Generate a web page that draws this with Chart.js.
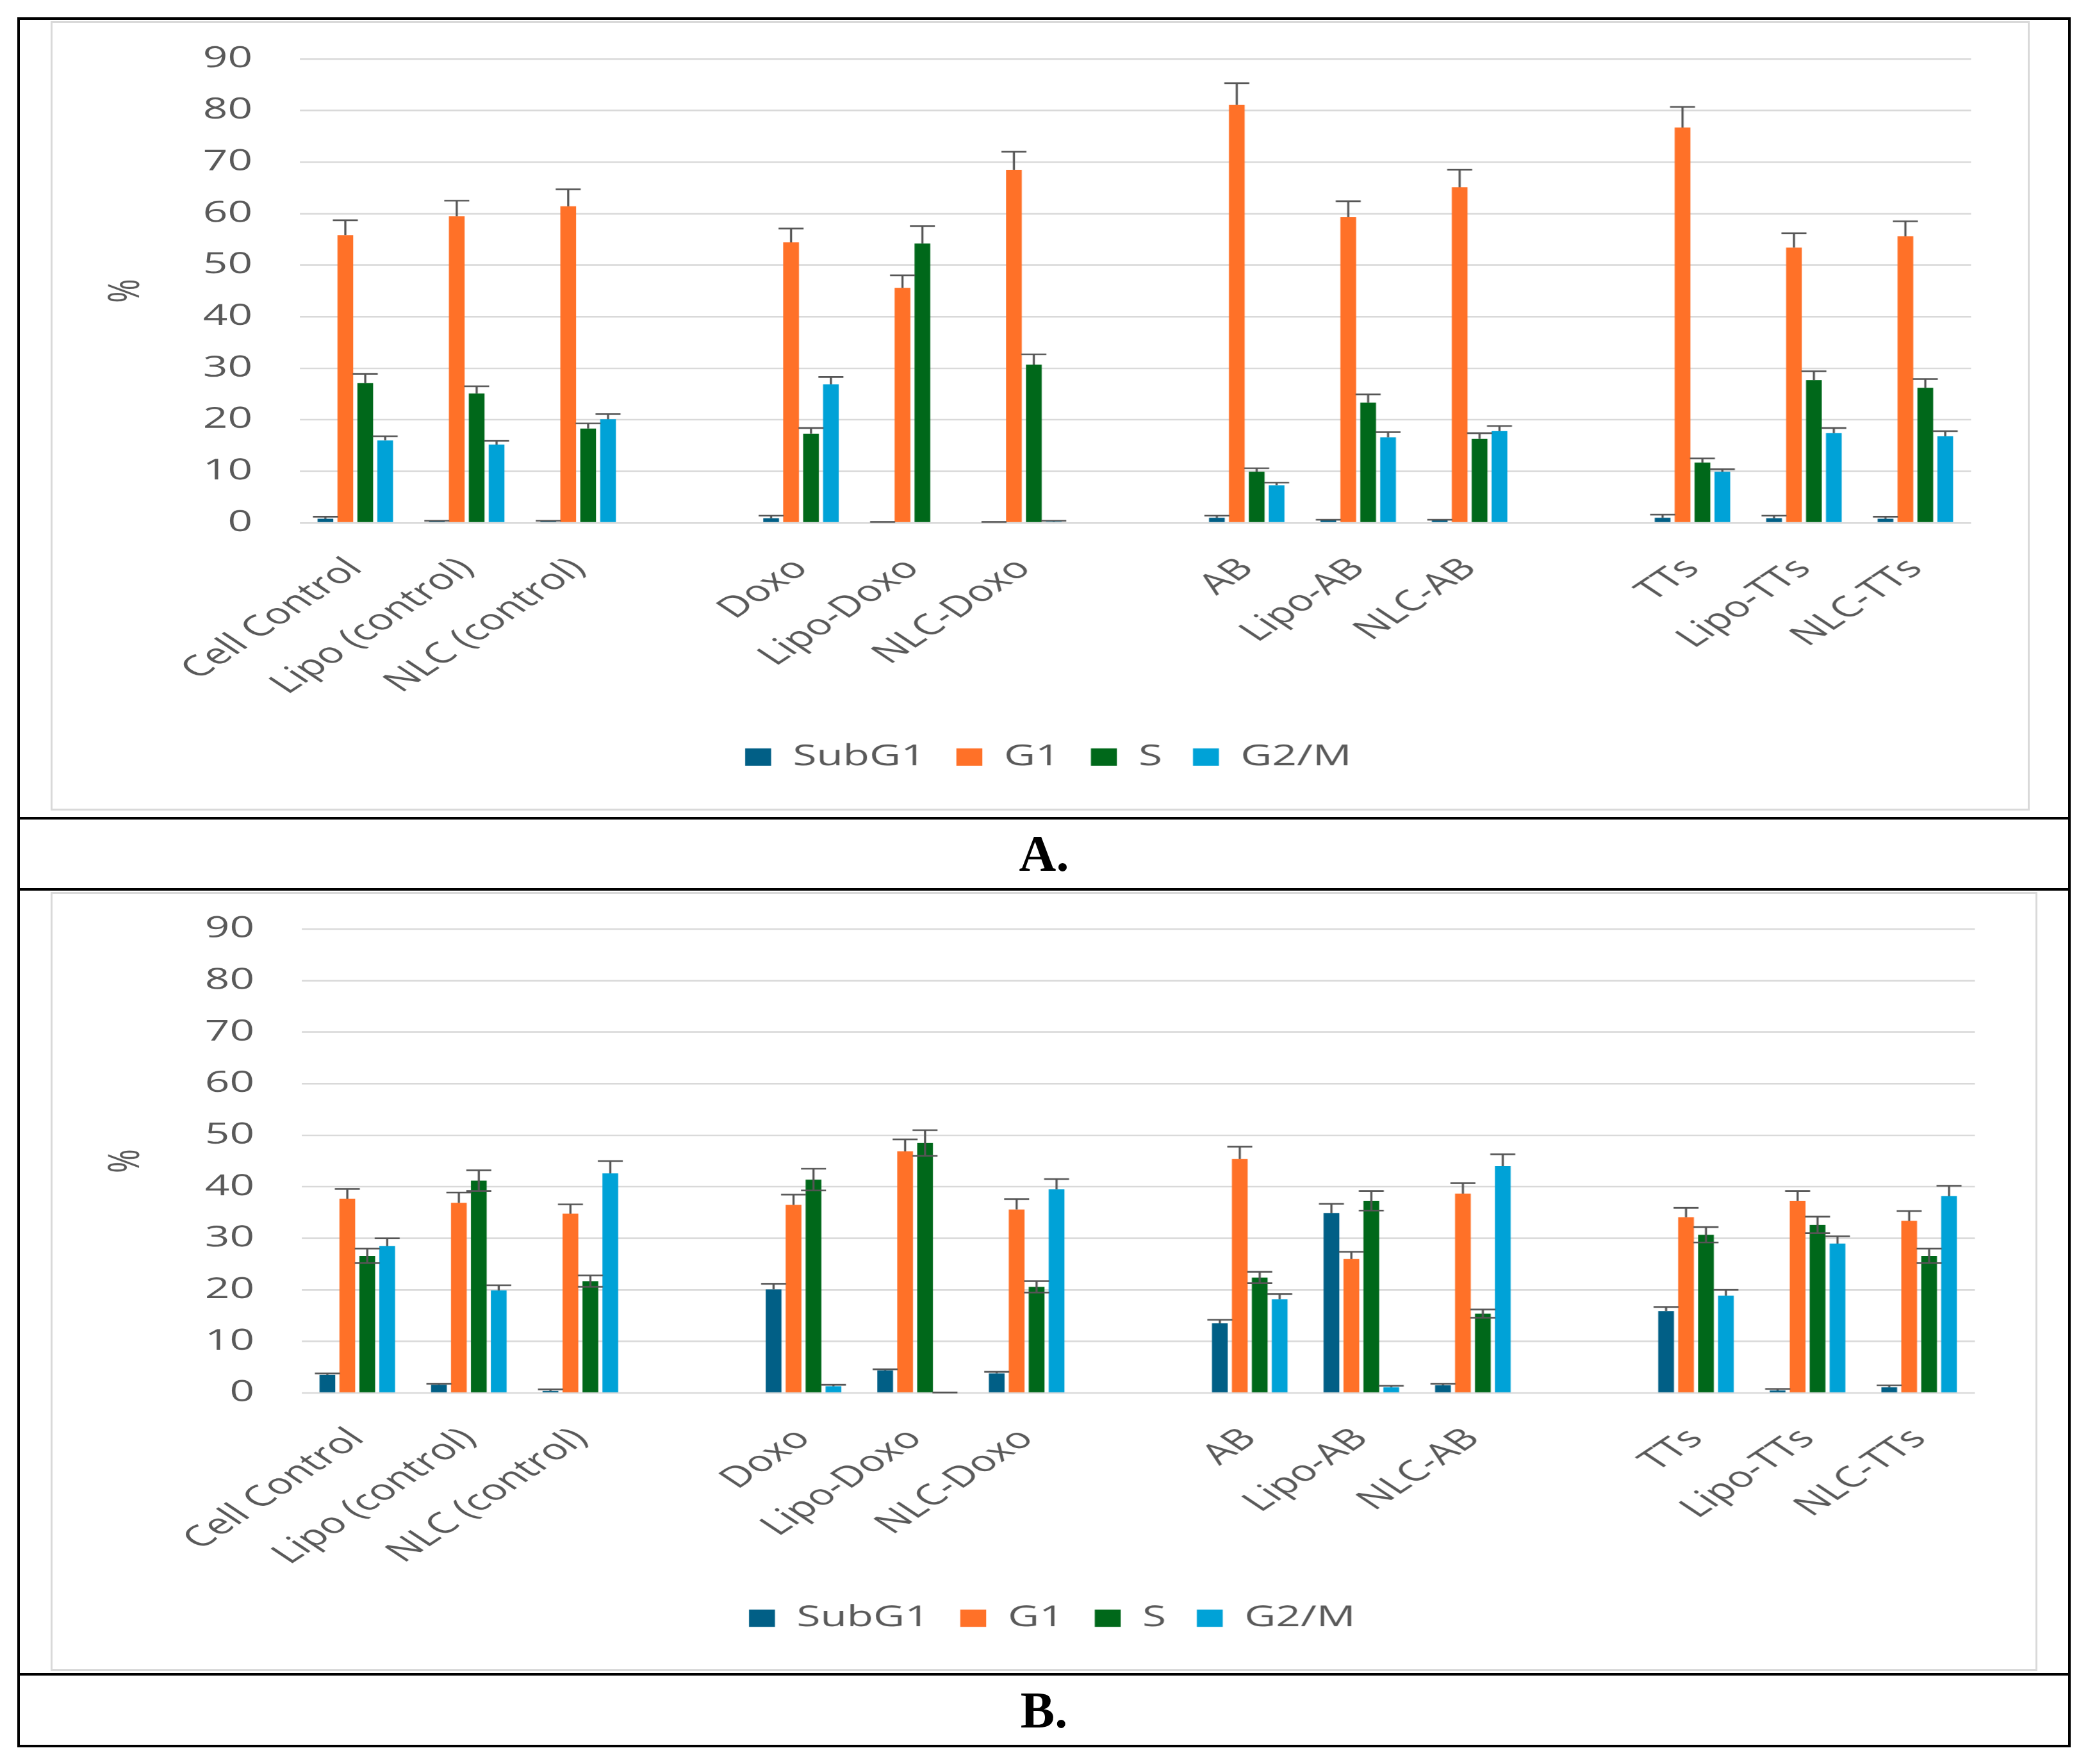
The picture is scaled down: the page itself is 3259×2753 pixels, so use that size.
<!DOCTYPE html>
<html><head><meta charset="utf-8">
<script src="https://cdn.jsdelivr.net/npm/chart.js@4.4.1/dist/chart.umd.min.js"></script>
<style>
html,body{margin:0;padding:0;background:#fff;}
#page{position:relative;width:3259px;height:2753px;background:#fff;overflow:hidden;}
.hl{position:absolute;background:#000;}
.box{position:absolute;border:3px solid #D9D9D9;box-sizing:border-box;}
.stretch{position:absolute;transform:scaleX(1.5);transform-origin:0 0;line-height:0;}
.stretch canvas{display:block;}
.lbl{position:absolute;font-family:"Liberation Serif","Times New Roman",serif;font-weight:bold;font-size:80px;color:#000;text-align:center;width:3201px;left:29px;line-height:1;}
</style></head>
<body>
<div id="page">
  <div class="box" style="left:79px;top:33px;width:3089px;height:1232px;"></div>
  <div class="stretch" style="left:79px;top:33px;"><canvas id="cA" width="2059" height="1232"></canvas></div>
  <div class="box" style="left:79px;top:1392px;width:3101px;height:1216px;"></div>
  <div class="stretch" style="left:79px;top:1392px;"><canvas id="cB" width="2067" height="1216"></canvas></div>

  <div class="hl" style="left:29px;top:27px;width:3201px;height:4px;"></div>
  <div class="hl" style="left:29px;top:2723px;width:3201px;height:4px;"></div>
  <div class="hl" style="left:27px;top:27px;width:4px;height:2700px;"></div>
  <div class="hl" style="left:3228px;top:27px;width:4px;height:2700px;"></div>
  <div class="hl" style="left:29px;top:1275px;width:3201px;height:4px;"></div>
  <div class="hl" style="left:29px;top:1386px;width:3201px;height:4px;"></div>
  <div class="hl" style="left:29px;top:2611px;width:3201px;height:4px;"></div>

  <div class="lbl" style="top:1292px;">A.</div>
  <div class="lbl" style="top:2629px;">B.</div>
</div>
<script>
// ---------- data ----------
const categories = ['Cell Control','Lipo (control)','NLC (control)','',
  'Doxo','Lipo-Doxo','NLC-Doxo','',
  'AB','Lipo-AB','NLC-AB','',
  'TTs','Lipo-TTs','NLC-TTs'];
const seriesNames = ['SubG1','G1','S','G2/M'];
const yTicks = [0,10,20,30,40,50,60,70,80,90];

// Panel A values and (upper) error
const subG1_A = [0.8, 0.3, 0.3, null, 0.9, 0.1, 0.1, null, 1.0, 0.5, 0.5, null, 1.0, 0.9, 0.8];
const subG1Err_A = [0.4, 0.1, 0.1, null, 0.5, 0.1, 0.1, null, 0.4, 0.1, 0.1, null, 0.6, 0.5, 0.4];
const g1_A = [55.8, 59.5, 61.4, null, 54.4, 45.6, 68.5, null, 81.1, 59.3, 65.1, null, 76.7, 53.4, 55.6];
const g1Err_A = [2.9, 3.0, 3.3, null, 2.7, 2.4, 3.5, null, 4.2, 3.1, 3.4, null, 4.0, 2.8, 2.9];
const s_A = [27.1, 25.1, 18.3, null, 17.3, 54.2, 30.7, null, 9.9, 23.3, 16.3, null, 11.7, 27.7, 26.2];
const sErr_A = [1.8, 1.4, 1.0, null, 1.1, 3.4, 2.0, null, 0.7, 1.6, 1.1, null, 0.8, 1.7, 1.7];
const g2m_A = [16.0, 15.2, 20.1, null, 26.9, null, 0.2, null, 7.3, 16.6, 17.8, null, 9.9, 17.4, 16.8];
const g2mErr_A = [0.8, 0.7, 1.0, null, 1.4, null, 0.2, null, 0.5, 1.0, 1.0, null, 0.5, 1.0, 1.0];

// Panel B values and error
const subG1_B = [3.5, 1.6, 0.4, null, 20.1, 4.4, 3.8, null, 13.5, 34.9, 1.5, null, 15.9, 0.5, 1.1];
const subG1Err_B = [0.3, 0.2, 0.3, null, 1.1, 0.2, 0.3, null, 0.7, 1.8, 0.3, null, 0.8, 0.3, 0.4];
const g1_B = [37.7, 36.9, 34.8, null, 36.5, 46.9, 35.6, null, 45.4, 26.0, 38.7, null, 34.1, 37.3, 33.4];
const g1Err_B = [1.9, 2.0, 1.8, null, 2.0, 2.3, 2.0, null, 2.4, 1.4, 2.0, null, 1.8, 1.9, 1.9];
const s_B = [26.6, 41.2, 21.7, null, 41.4, 48.5, 20.6, null, 22.4, 37.3, 15.4, null, 30.7, 32.6, 26.6];
const sErr_B = [1.4, 2.0, 1.1, null, 2.1, 2.5, 1.1, null, 1.1, 1.9, 0.8, null, 1.5, 1.6, 1.4];
const g2m_B = [28.5, 19.9, 42.6, null, 1.3, 0.1, 39.5, null, 18.2, 1.1, 44.0, null, 18.9, 29.0, 38.2];
const g2mErr_B = [1.5, 1.0, 2.4, null, 0.3, 0.0, 2.0, null, 1.0, 0.3, 2.3, null, 1.1, 1.4, 2.0];

// ---------- style ----------
const colors = ['#015F86','#FF7128','#00681A','#00A2D7'];
const FONT = "'Open Sans','DejaVu Sans',sans-serif";
const TXT = '#595959';
const GRID = '#D9D9D9';

const errorBars = {
  id: 'errorBars',
  afterDatasetsDraw(chart) {
    const ctx = chart.ctx, ys = chart.scales.y;
    chart.data.datasets.forEach((ds, di) => {
      const meta = chart.getDatasetMeta(di);
      if (!ds.errPlus || meta.hidden) return;
      meta.data.forEach((bar, i) => {
        const v = ds.data[i], e = ds.errPlus[i];
        if (v == null || e == null) return;
        const x = bar.x;
        const yTop = ys.getPixelForValue(v + e);
        const yBar = ys.getPixelForValue(v);
        const yLow = ds.bothSides ? ys.getPixelForValue(v - e) : yBar;
        const hw = 13;
        ctx.save();
        ctx.strokeStyle = '#555555';
        ctx.lineWidth = 2.2;
        ctx.beginPath(); ctx.moveTo(x, yLow); ctx.lineTo(x, yTop); ctx.stroke();
        ctx.lineWidth = 2.6;
        ctx.beginPath();
        ctx.moveTo(x - hw, yTop); ctx.lineTo(x + hw, yTop);
        if (ds.bothSides) { ctx.moveTo(x - hw, yLow); ctx.lineTo(x + hw, yLow); }
        ctx.stroke();
        ctx.restore();
      });
    });
  }
};

function build(id, vals, errs, both, geo) {
  const datasets = seriesNames.map((n, k) => ({
    label: n, data: vals[k], errPlus: errs[k], bothSides: both[k],
    backgroundColor: colors[k], borderWidth: 0,
    categoryPercentage: 0.715, barPercentage: 0.79
  }));
  new Chart(document.getElementById(id), {
    type: 'bar',
    data: { labels: categories, datasets },
    plugins: [errorBars],
    options: {
      responsive: false, devicePixelRatio: 1.5, animation: false,
      layout: { autoPadding: false, padding: { left: geo.left, right: 0, top: geo.top, bottom: geo.bottom } },
      plugins: {
        tooltip: { enabled: false },
        legend: {
          position: 'bottom',
          labels: { boxWidth: 27, boxHeight: 27, padding: 32, color: TXT, font: { family: FONT, size: 45 } }
        }
      },
      scales: {
        x: {
          grid: { display: false, drawTicks: false },
          border: { display: false },
          ticks: { autoSkip: false, minRotation: 45, maxRotation: 45, padding: 45, color: TXT, font: { family: FONT, size: 45 } },
          afterFit(s) { s.height = geo.xh; s.paddingLeft = 0; s.paddingRight = 0; }
        },
        y: {
          min: 0, max: 90,
          afterBuildTicks(s) { s.ticks = yTicks.map(v => ({ value: v })); },
          grid: { color: GRID, lineWidth: 2.5, drawTicks: false },
          border: { display: false },
          ticks: { padding: 49, color: TXT, font: { family: FONT, size: 45 } },
          title: { display: true, text: '%', color: TXT, font: { family: FONT, size: 45 }, padding: { top: 35, bottom: 0 } },
          afterFit(s) { s.width = geo.yw; s.paddingTop = 0; s.paddingBottom = 0; }
        },
        yRight: {
          position: 'right', min: 0, max: 90,
          grid: { display: false, drawTicks: false },
          border: { display: false },
          ticks: { display: false },
          afterFit(s) { s.width = geo.right; s.paddingTop = 0; s.paddingBottom = 0; }
        }
      }
    }
  });
}

build('cA', [subG1_A, g1_A, s_A, g2m_A], [subG1Err_A, g1Err_A, sErr_A, g2mErr_A],
  [false, false, false, false], { left: 17, right: 61, top: 59, bottom: 51, xh: 311, yw: 242 });
build('cB', [subG1_B, g1_B, s_B, g2m_B], [subG1Err_B, g1Err_B, sErr_B, g2mErr_B],
  [false, false, true, false], { left: 17, right: 65, top: 58, bottom: 50, xh: 297, yw: 244 });
</script>
</body></html>
